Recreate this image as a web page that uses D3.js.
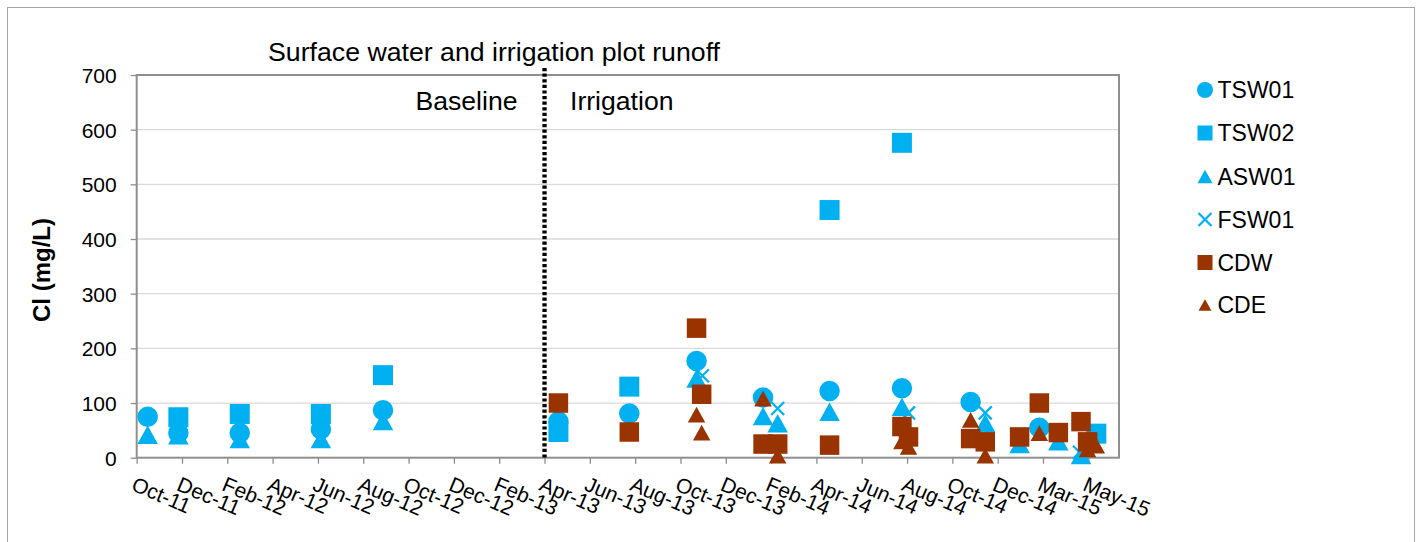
<!DOCTYPE html>
<html>
<head>
<meta charset="utf-8">
<script src="https://cdn.jsdelivr.net/npm/d3@7"></script>
<style>
  body { margin: 0; background: #fff; }
  svg text { font-family: "Liberation Sans", Arial, sans-serif; fill: #000; }
</style>
</head>
<body>
<svg id="chart" width="1423" height="542"></svg>
<script>
// ---- data --------------------------------------------------------------
const tickLabels = ["Oct-11", "Dec-11", "Feb-12", "Apr-12", "Jun-12", "Aug-12", "Oct-12",
  "Dec-12", "Feb-13", "Apr-13", "Jun-13", "Aug-13", "Oct-13", "Dec-13", "Feb-14", "Apr-14",
  "Jun-14", "Aug-14", "Oct-14", "Dec-14", "Mar-15", "May-15"];
const axisStart = "2011-10-10";      // first major tick
const axisEnd = "2015-06-15";
const majorUnitDays = 62;
const yTicks = [0, 100, 200, 300, 400, 500, 600, 700];
const irrigationStart = "2013-04-20";

// Cl (mg/L) by sampling date
const tsw01 = [["2011-10-25", 75], ["2011-12-06", 45], ["2012-02-28", 45], ["2012-06-18", 52],
  ["2012-09-11", 87], ["2013-05-09", 66], ["2013-08-14", 81], ["2013-11-14", 177],
  ["2014-02-13", 110], ["2014-05-15", 122], ["2014-08-22", 127], ["2014-11-24", 102],
  ["2015-02-26", 55]];
const tsw02 = [["2011-12-06", 74], ["2012-02-28", 80], ["2012-06-18", 80], ["2012-09-11", 151],
  ["2013-05-09", 47], ["2013-08-14", 130], ["2014-05-15", 453], ["2014-08-22", 576],
  ["2015-05-15", 44]];
const asw01 = [["2011-10-25", 42], ["2011-12-06", 41], ["2012-02-28", 34], ["2012-06-18", 34],
  ["2012-09-11", 67], ["2013-11-14", 145], ["2014-02-13", 76], ["2014-03-05", 63],
  ["2014-05-15", 84], ["2014-08-22", 93], ["2014-12-14", 63], ["2015-01-30", 25],
  ["2015-03-24", 30], ["2015-04-24", 5]];
const fsw01 = [["2013-11-22", 150], ["2014-03-05", 90], ["2014-08-31", 82], ["2014-12-14", 82],
  ["2015-04-22", 10]];
const cdw = [["2013-05-09", 100], ["2013-08-14", 47], ["2013-11-14", 237], ["2013-11-21", 116],
  ["2014-02-13", 25], ["2014-03-05", 25], ["2014-05-15", 23], ["2014-08-22", 57],
  ["2014-08-31", 38], ["2014-11-24", 35], ["2014-12-14", 29], ["2015-01-30", 38],
  ["2015-02-26", 100], ["2015-03-24", 46], ["2015-04-24", 66], ["2015-05-03", 29]];
const cde = [["2013-11-14", 79], ["2013-11-21", 46], ["2014-02-13", 108], ["2014-03-05", 4],
  ["2014-08-22", 30], ["2014-08-31", 20], ["2014-11-24", 69], ["2014-12-14", 4],
  ["2015-02-26", 45], ["2015-05-03", 15], ["2015-05-15", 22]];

const seriesNames = ["TSW01", "TSW02", "ASW01", "FSW01", "CDW", "CDE"];
const seriesData = [tsw01, tsw02, asw01, fsw01, cdw, cde];

// ---- styling -----------------------------------------------------------
const BLUE = "#00B0F0", BROWN = "#993300";
const markerStyles = [
  { shape: "circle",   color: BLUE,  size: 20.5, legendSize: 16 },
  { shape: "square",   color: BLUE,  size: 20, legendSize: 15 },
  { shape: "triangle", color: BLUE,  size: 20.5, legendSize: 15 },
  { shape: "x",        color: BLUE,  size: 13, legendSize: 13 },
  { shape: "square",   color: BROWN, size: 19.5, legendSize: 15 },
  { shape: "triangle", color: BROWN, size: 17.5, legendSize: 13 }
];

const plot = { left: 136.7, right: 1119, top: 75, bottom: 457.7 };
const parse = d3.utcParse("%Y-%m-%d");

const svg = d3.select("#chart");

// outer chart frame
svg.append("rect")
  .attr("x", 7.5).attr("y", 7.5).attr("width", 1407).attr("height", 560)
  .attr("fill", "#fff").attr("stroke", "#a6a6a6").attr("stroke-width", 1);

// ---- scales ------------------------------------------------------------
const x = d3.scaleUtc()
  .domain([parse(axisStart), parse(axisEnd)])
  .range([plot.left, plot.right]);
const y = d3.scaleLinear().domain([0, 700]).range([plot.bottom, plot.top]);

const tickDates = tickLabels.map((_, i) => d3.utcDay.offset(parse(axisStart), i * majorUnitDays));

// gridlines
svg.append("g")
  .selectAll("line")
  .data(yTicks.filter(v => v > 0 && v < 700))
  .join("line")
  .attr("x1", plot.left).attr("x2", plot.right)
  .attr("y1", d => y(d)).attr("y2", d => y(d))
  .attr("stroke", "#d9d9d9").attr("stroke-width", 1.3);

// y axis
const yAxis = svg.append("g")
  .attr("transform", `translate(${plot.left},0)`)
  .call(d3.axisLeft(y).tickValues(yTicks).tickSize(6).tickPadding(14));
yAxis.select(".domain").remove();
yAxis.selectAll(".tick line").attr("stroke", "#8c8c8c").attr("stroke-width", 1.3);
yAxis.selectAll(".tick text")
  .style("font-size", "21px").style("font-family", "'Liberation Sans', Arial, sans-serif")
  .attr("dy", "0.36em");

// x axis
const xAxis = svg.append("g")
  .attr("transform", `translate(0,${plot.bottom})`)
  .call(d3.axisBottom(x).tickValues(tickDates).tickSize(6)
    .tickFormat((d, i) => tickLabels[i]));
xAxis.select(".domain").remove();
xAxis.selectAll(".tick line").attr("stroke", "#8c8c8c").attr("stroke-width", 1.3);
xAxis.selectAll(".tick text")
  .attr("x", 0).attr("y", 0).attr("dy", 0)
  .attr("text-anchor", "start")
  .attr("transform", "translate(-7,32) rotate(23)")
  .style("font-size", "21px").style("font-family", "'Liberation Sans', Arial, sans-serif");

// plot frame
svg.append("rect")
  .attr("x", plot.left).attr("y", plot.top)
  .attr("width", plot.right - plot.left).attr("height", plot.bottom - plot.top)
  .attr("fill", "none").attr("stroke", "#8f8f8f").attr("stroke-width", 2);

// baseline / irrigation divider
const defs = svg.append("defs");
defs.append("filter").attr("id", "soft").attr("x", "-50%").attr("y", "-5%")
  .attr("width", "200%").attr("height", "110%")
  .append("feGaussianBlur").attr("stdDeviation", 2);
const xDiv = x(parse(irrigationStart));
svg.append("line")
  .attr("x1", xDiv).attr("x2", xDiv).attr("y1", 69).attr("y2", plot.bottom)
  .attr("stroke", "#000").attr("stroke-opacity", 0.22).attr("stroke-width", 7)
  .attr("filter", "url(#soft)");
svg.append("line")
  .attr("x1", xDiv).attr("x2", xDiv).attr("y1", 68).attr("y2", plot.bottom)
  .attr("stroke", "#000").attr("stroke-width", 4.3).attr("stroke-dasharray", "3.2,2.4");

// ---- marker shapes -----------------------------------------------------
function shapeType(shape, s) {
  if (shape === "circle") return { draw(c) { const r = s / 2; c.moveTo(r, 0); c.arc(0, 0, r, 0, 2 * Math.PI); } };
  if (shape === "square") return { draw(c) { const h = s / 2; c.rect(-h, -h, s, s); } };
  if (shape === "triangle") return { draw(c) {
    const w = s / 2, h = s * 0.45;
    c.moveTo(0, -h); c.lineTo(w, h); c.lineTo(-w, h); c.closePath(); } };
  return { draw(c) { const h = s / 2; c.moveTo(-h, -h); c.lineTo(h, h); c.moveTo(h, -h); c.lineTo(-h, h); } };
}
function styleMarker(sel, st) {
  if (st.shape === "x") sel.attr("fill", "none").attr("stroke", st.color).attr("stroke-width", 2.2);
  else sel.attr("fill", st.color).attr("stroke", "none");
}

// ---- points --------------------------------------------------------------
seriesData.forEach((rows, si) => {
  const st = markerStyles[si];
  const sym = d3.symbol().type(shapeType(st.shape, st.size));
  const g = svg.append("g").attr("class", "series-" + seriesNames[si]);
  const pts = g.selectAll("path").data(rows).join("path")
    .attr("d", sym)
    .attr("transform", d => `translate(${x(parse(d[0]))},${y(d[1])})`);
  styleMarker(pts, st);
});

// ---- titles ------------------------------------------------------------
svg.append("text")
  .attr("x", 494).attr("y", 60.5).attr("text-anchor", "middle")
  .style("font-size", "26.7px")
  .text("Surface water and irrigation plot runoff");
svg.append("text").attr("x", 415.5).attr("y", 110).style("font-size", "26.6px").text("Baseline");
svg.append("text").attr("x", 570).attr("y", 110).style("font-size", "26.6px").text("Irrigation");
svg.append("text")
  .attr("transform", "translate(50,270) rotate(-90)")
  .attr("text-anchor", "middle")
  .style("font-size", "24px").style("font-weight", "bold")
  .text("Cl (mg/L)");

// ---- legend --------------------------------------------------------------
const legendRows = [90, 133, 176.5, 219.5, 262.5, 305];
const legend = svg.append("g");
seriesNames.forEach((name, i) => {
  const st = markerStyles[i];
  const row = legend.append("g").attr("transform", `translate(1205,${legendRows[i]})`);
  const m = row.append("path").attr("d", d3.symbol().type(shapeType(st.shape, st.legendSize))());
  styleMarker(m, st);
  row.append("text").attr("x", 12.5).attr("y", 8.3).style("font-size", "23px").text(name);
});
</script>
</body>
</html>
